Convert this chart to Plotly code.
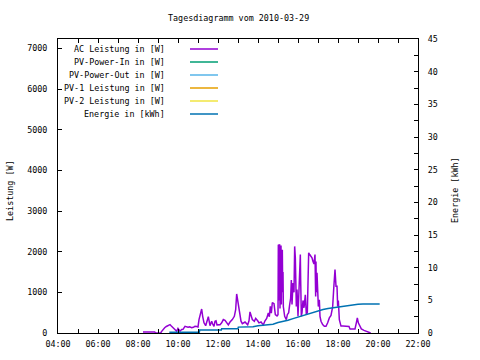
import plotly.graph_objects as go

DAY = "2010-03-29 "

# AC Leistung in [W]
ac_time = ["08:15","08:30","08:50","08:53","09:08","09:11","09:15","09:20","09:25","09:30",
           "09:36","09:40","09:45","09:50","09:56","10:00","10:06","10:11","10:15","10:21",
           "10:25","10:30","10:35","10:41","10:46","10:51","10:56","11:00","11:03","11:08",
           "11:11","11:14","11:18","11:23","11:29","11:31","11:36","11:41","11:44","11:48",
           "11:51","11:54","11:57","12:01","12:06","12:11","12:16","12:21","12:26","12:31",
           "12:36","12:43","12:49","12:53","12:56","12:59","13:03","13:06","13:09","13:13",
           "13:21","13:29","13:33","13:36","13:39","13:43","13:49","13:53","13:59","14:03",
           "14:09","14:16","14:21","14:26","14:31","14:34","14:37","14:40","14:43","14:48",
           "14:52","14:57","15:00","15:01","15:02","15:03","15:04","15:05","15:06","15:07",
           "15:08","15:09","15:10","15:11","15:12","15:13","15:14","15:15","15:16","15:20",
           "15:25","15:28","15:32","15:35","15:38","15:40","15:42","15:45","15:48","15:50",
           "15:52","15:55","15:57","16:00","16:02","16:05","16:07","16:08","16:10","16:12",
           "16:15","16:18","16:22","16:25","16:28","16:32","16:35","16:38","16:40","16:42",
           "16:45","16:48","16:51","16:53","16:54","16:55","16:57","16:59","17:00","17:01",
           "17:04","17:06","17:09","17:14","17:19","17:24","17:29","17:34","17:39","17:44",
           "17:47","17:49","17:51","17:54","17:57","17:59","18:01","18:04","18:07","18:09",
           "18:15","18:25","18:33","18:36","18:45","18:51","18:55","18:58","19:01","19:05",
           "19:10","19:18","19:25","19:33","19:38"]
ac_watt = [25, 25, 25, 0, 0, 40, 90, 130, 160, 190,
           206, 170, 125, 90, 45, 110, 45, 85, 90, 165,
           150, 140, 150, 128, 140, 165, 160, 150, 330, 490,
           590, 410, 250, 180, 310, 400, 180, 290, 220, 165,
           290, 300, 200, 205, 205, 250, 330, 310, 250, 200,
           270, 330, 410, 575, 960, 820, 655, 450, 290, 230,
           270, 200, 300, 520, 410, 330, 290, 360, 300, 250,
           270, 200, 300, 360, 490, 400, 655, 490, 750, 720,
           450, 420, 450, 2170, 700, 2150, 800, 2180, 600, 2100,
           900, 2150, 700, 2000, 1000, 2050, 1100, 1500, 650, 410,
           330, 450, 500, 700, 860, 1300, 700, 1230, 1000, 2130,
           1850, 650, 1070, 410, 800, 1560, 1930, 1310, 410, 500,
           800, 620, 940, 450, 500, 1970, 1930, 1900, 1880, 1850,
           1760, 1700, 1930, 900, 1760, 1000, 1480, 820, 860, 650,
           820, 410, 290, 205, 165, 165, 250, 370, 430, 650,
           1070, 1560, 1560, 1150, 1150, 650, 800, 330, 205, 170,
           170, 165, 160, 100, 100, 100, 250, 370, 250, 165,
           100, 65, 40, 15, 0]

# Energie in [kWh]
en_time = ["09:34","11:04","11:05","12:10","12:11","13:00","13:01","13:45","14:00","14:30",
           "14:45","15:00","15:15","15:30","15:45","16:00","16:15","16:30","16:45","17:00",
           "17:15","17:30","17:45","18:00","18:15","18:30","18:45","19:00","19:15","19:30",
           "20:05"]
en_kwh = [0.12, 0.12, 0.45, 0.45, 0.65, 0.65, 0.9, 0.95, 1.1, 1.2,
          1.35, 1.6, 1.75, 1.95, 2.2, 2.45, 2.65, 2.85, 3.1, 3.45,
          3.6, 3.75, 3.85, 4.05, 4.15, 4.25, 4.35, 4.4, 4.42, 4.45,
          4.45]

legend_names = ["AC Leistung in [W]", "PV-Power-In in [W]", "PV-Power-Out in [W]",
                "PV-1 Leistung in [W]", "PV-2 Leistung in [W]", "Energie in [kWh]"]
legend_colors = ["#9400d3", "#009e73", "#56b4e9", "#e69f00", "#f0e442", "#0072b2"]

x_ticks = ["04:00", "06:00", "08:00", "10:00", "12:00", "14:00", "16:00", "18:00", "20:00", "22:00"]

FONT = "DejaVu Sans Mono"
FS = 8.4

fig = go.Figure()
fig.add_trace(go.Scatter(x=[DAY + t for t in ac_time], y=ac_watt, mode="lines",
                         line=dict(color=legend_colors[0], width=1.5), name=legend_names[0],
                         showlegend=False))
fig.add_trace(go.Scatter(x=[DAY + t for t in en_time], y=en_kwh, mode="lines", yaxis="y2",
                         line=dict(color=legend_colors[5], width=1.5), name=legend_names[5],
                         showlegend=False))

L, R, T, B = 58, 418, 39, 333
W, H = 480, 360
pw, ph = R - L, B - T

annotations = []
shapes = []
for i, (nm, col) in enumerate(zip(legend_names, legend_colors)):
    ypix = 49 + 13 * i
    yp = (B - ypix) / ph
    annotations.append(dict(text=nm, xref="paper", yref="paper", x=(167 - L) / pw, y=yp,
                            xanchor="right", yanchor="middle", showarrow=False,
                            font=dict(family=FONT, size=FS, color="black")))
    shapes.append(dict(type="line", xref="paper", yref="paper",
                       x0=(190 - L) / pw, x1=(218 - L) / pw, y0=yp, y1=yp,
                       line=dict(color=col, width=1.5)))

annotations.append(dict(text="Leistung [W]", xref="paper", yref="paper", x=(10 - L) / pw,
                        y=(B - 191) / ph, textangle=-90, showarrow=False,
                        xanchor="center", yanchor="middle",
                        font=dict(family=FONT, size=FS, color="black")))
annotations.append(dict(text="Energie [kWh]", xref="paper", yref="paper", x=(455 - L) / pw,
                        y=(B - 190) / ph, textangle=-90, showarrow=False,
                        xanchor="center", yanchor="middle",
                        font=dict(family=FONT, size=FS, color="black")))
annotations.append(dict(text="Tagesdiagramm vom 2010-03-29", xref="paper", yref="paper",
                        x=0.5, y=(B - 18) / ph, showarrow=False, xanchor="center",
                        yanchor="middle", font=dict(family=FONT, size=FS, color="black")))

fig.update_layout(
    width=W, height=H,
    margin=dict(l=L, r=W - R, t=T, b=H - B, pad=0),
    paper_bgcolor="white", plot_bgcolor="white",
    font=dict(family=FONT, size=FS, color="black"),
    showlegend=False,
    annotations=annotations, shapes=shapes,
    xaxis=dict(type="date", range=[DAY + "04:00", DAY + "22:00"],
               tickvals=[DAY + t for t in x_ticks], ticktext=x_ticks,
               ticks="inside", ticklen=4, tickcolor="black", showline=True,
               linecolor="black", linewidth=1, mirror="allticks", showgrid=False,
               zeroline=False, ticklabelstandoff=3,
               minor=dict(dtick=3600000, tick0=DAY + "04:00", ticks="inside", ticklen=2,
                          tickcolor="black", showgrid=False)),
    yaxis=dict(range=[0, 7230], dtick=1000, tick0=0, ticks="inside", ticklen=4,
               tickcolor="black", showline=True, linecolor="black", linewidth=1,
               showgrid=False, zeroline=False, ticklabelstandoff=8),
    yaxis2=dict(range=[0, 45], dtick=5, tick0=0, overlaying="y", side="right",
                ticks="inside", ticklen=4, tickcolor="black", showline=True,
                linecolor="black", linewidth=1, showgrid=False, zeroline=False,
                ticklabelstandoff=7,
                minor=dict(dtick=2.5, ticks="inside", ticklen=4, tickcolor="black",
                           showgrid=False)),
)

fig.write_html("out.html", config={"displayModeBar": False},
               post_script="document.body.style.margin='0';document.body.style.overflow='hidden';")
